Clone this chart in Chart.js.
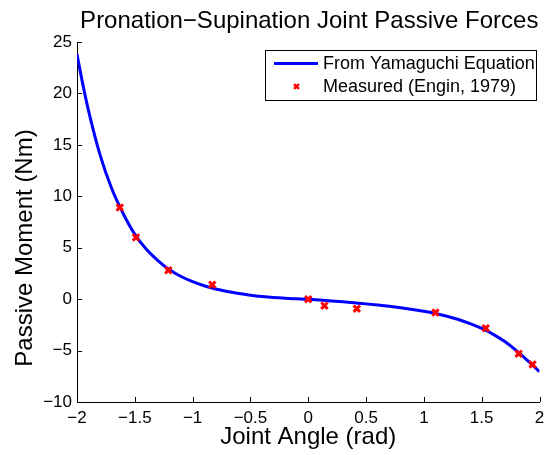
<!DOCTYPE html>
<html>
<head>
<meta charset="utf-8">
<script src="https://cdn.jsdelivr.net/npm/chart.js@4/dist/chart.umd.min.js"></script>
<style>
html,body{margin:0;padding:0;background:#fff;}
#wrap{width:547px;height:455px;position:relative;}
</style>
</head>
<body>
<div id="wrap"><canvas id="c" width="547" height="455"></canvas></div>
<script>
const chartTitle = 'Pronation\u2212Supination Joint Passive Forces';
const xAxisTitle = 'Joint Angle (rad)';
const yAxisTitle = 'Passive Moment (Nm)';
const seriesNames = ['From Yamaguchi Equation', 'Measured (Engin, 1979)'];

const curveAngle = [-2.0, -1.95, -1.9, -1.8, -1.7, -1.6, -1.5, -1.4, -1.3, -1.2, -1.1, -1.0, -0.9, -0.8, -0.7, -0.6, -0.5, -0.4, -0.3, -0.2, -0.1, 0.0, 0.1, 0.2, 0.3, 0.4, 0.5, 0.6, 0.7, 0.8, 0.9, 1.0, 1.1, 1.2, 1.3, 1.4, 1.5, 1.6, 1.7, 1.8, 1.9, 2.0];
const curveMoment = [23.8, 20.9, 18.3, 14.0, 10.75, 8.3, 6.3, 4.85, 3.75, 2.85, 2.2, 1.7, 1.3, 0.98, 0.74, 0.54, 0.38, 0.25, 0.15, 0.08, 0.03, -0.02, -0.09, -0.17, -0.26, -0.36, -0.46, -0.57, -0.7, -0.84, -1.0, -1.18, -1.4, -1.66, -1.98, -2.38, -2.85, -3.42, -4.12, -5.0, -6.0, -7.05];

const measuredAngle = [-1.63, -1.49, -1.21, -0.83, 0.0, 0.14, 0.42, 1.10, 1.535, 1.82, 1.94];
const measuredMoment = [8.9, 6.0, 2.8, 1.4, 0.0, -0.64, -0.93, -1.3, -2.82, -5.3, -6.35];

const xTicks = [-2, -1.5, -1, -0.5, 0, 0.5, 1, 1.5, 2];
const yTicks = [-10, -5, 0, 5, 10, 15, 20, 25];

const FONT = "'Liberation Sans', Arial, Helvetica, sans-serif";
const fmt = v => String(v).replace('-', '\u2212');

const curvePts = curveAngle.map((x, i) => ({x: x, y: curveMoment[i]}));
const measPts = measuredAngle.map((x, i) => ({x: x, y: measuredMoment[i]}));

const decor = {
  id: 'decor',
  afterDraw(chart) {
    const ctx = chart.ctx;
    const ca = chart.chartArea;
    const xs = chart.scales.x, ys = chart.scales.y;
    ctx.save();
    // inward ticks
    ctx.strokeStyle = '#000';
    ctx.lineWidth = 1;
    ctx.beginPath();
    xTicks.forEach(v => {
      const px = Math.round(xs.getPixelForValue(v)) + 0.5;
      ctx.moveTo(px, ca.bottom);
      ctx.lineTo(px, ca.bottom - 5);
    });
    yTicks.forEach(v => {
      const py = Math.round(ys.getPixelForValue(v)) + 0.5;
      ctx.moveTo(ca.left, py);
      ctx.lineTo(ca.left + 5, py);
    });
    ctx.stroke();
    // title
    ctx.fillStyle = '#000';
    ctx.font = '24px ' + FONT;
    ctx.textAlign = 'center';
    ctx.textBaseline = 'alphabetic';
    ctx.fillText(chartTitle, (ca.left + ca.right) / 2 + 1, 28);
    // y axis title
    ctx.save();
    ctx.translate(25, 248);
    ctx.rotate(-Math.PI / 2);
    ctx.font = '24px ' + FONT;
    ctx.textAlign = 'center';
    ctx.textBaseline = 'middle';
    ctx.fillText(yAxisTitle, 0, 0);
    ctx.restore();
    // legend
    const bx = 265.5, by = 50.5, bw = 271, bh = 50;
    ctx.fillStyle = '#fff';
    ctx.fillRect(bx, by, bw, bh);
    ctx.strokeStyle = '#000';
    ctx.lineWidth = 1;
    ctx.strokeRect(bx, by, bw, bh);
    const r1 = 63.5, r2 = 86.5;
    ctx.strokeStyle = '#0000ff';
    ctx.lineWidth = 3;
    ctx.beginPath();
    ctx.moveTo(274, r1);
    ctx.lineTo(318, r1);
    ctx.stroke();
    ctx.strokeStyle = '#ff0000';
    ctx.fillStyle = '#ff0000';
    ctx.lineWidth = 2.5;
    Chart.helpers.drawPoint(ctx, {pointStyle: 'crossRot', radius: 3.5, rotation: 0, borderWidth: 2.5}, 296.5, r2);
    ctx.fillStyle = '#000';
    ctx.font = '18px ' + FONT;
    ctx.textAlign = 'left';
    ctx.textBaseline = 'middle';
    ctx.fillText(seriesNames[0], 323, r1 + 1);
    ctx.fillText(seriesNames[1], 323, r2 + 1);
    ctx.restore();
  }
};

new Chart(document.getElementById('c'), {
  type: 'scatter',
  data: {
    datasets: [
      {
        label: seriesNames[1],
        data: measPts,
        showLine: false,
        pointStyle: 'crossRot',
        pointRadius: 4.5,
        pointBorderWidth: 3,
        borderColor: '#ff0000',
        backgroundColor: '#ff0000',
        order: 0
      },
      {
        label: seriesNames[0],
        data: curvePts,
        showLine: true,
        pointRadius: 0,
        borderColor: '#0000ff',
        borderWidth: 3,
        cubicInterpolationMode: 'monotone',
        fill: false,
        order: 1
      }
    ]
  },
  options: {
    responsive: false,
    animation: false,
    devicePixelRatio: 1,
    layout: {padding: {top: 42, right: 6, left: 0, bottom: 0}},
    plugins: {
      legend: {display: false},
      tooltip: {enabled: false},
      title: {display: false}
    },
    scales: {
      x: {
        type: 'linear',
        min: -2, max: 2,
        afterBuildTicks: s => { s.ticks = xTicks.map(v => ({value: v})); },
        afterFit: s => { s.height = 53; },
        grid: {display: false, drawTicks: true, tickLength: 8},
        border: {display: true, color: '#000', width: 1},
        ticks: {
          color: '#000', padding: -2, maxRotation: 0, autoSkip: false,
          font: {family: FONT, size: 17},
          callback: v => fmt(v)
        },
        title: {
          display: true, text: xAxisTitle, color: '#000',
          font: {family: FONT, size: 24},
          padding: {top: 1, bottom: 3}
        }
      },
      y: {
        type: 'linear',
        min: -10, max: 25,
        afterBuildTicks: s => { s.ticks = yTicks.map(v => ({value: v})); },
        afterFit: s => { s.width = 77; },
        grid: {display: false, drawTicks: false},
        border: {display: true, color: '#000', width: 1},
        ticks: {
          color: '#000', padding: 5, autoSkip: false,
          font: {family: FONT, size: 17},
          callback: v => fmt(v)
        },
        title: {display: false}
      }
    }
  },
  plugins: [decor]
});
</script>
</body>
</html>
